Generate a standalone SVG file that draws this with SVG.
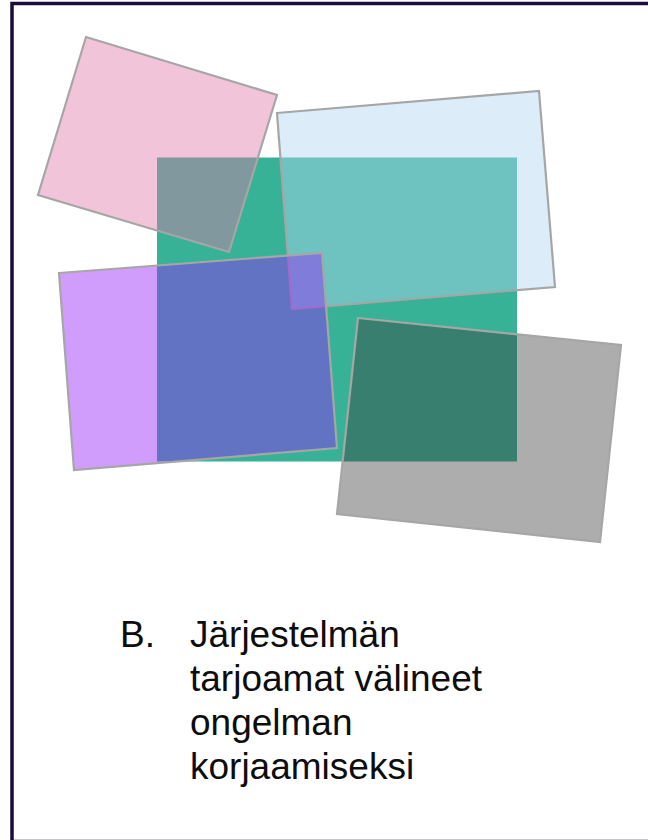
<svg xmlns="http://www.w3.org/2000/svg" width="648" height="840" viewBox="0 0 648 840">
  <style>
    .card { stroke: #a6a6a6; stroke-width: 2.2; stroke-linejoin: miter; }
    .label { font-family: "Liberation Sans", Arial, sans-serif; font-size: 37px; fill: #0d0d0d; }
  </style>
  <rect x="0" y="0" width="648" height="840" fill="#ffffff"/>
  <rect id="frame" x="12" y="3.5" width="640" height="838" fill="none" stroke="#1e0b3c" stroke-width="3.5"/>
  <g id="teal">
    <rect x="157" y="157.5" width="360" height="304" fill="#38b297"/>
  </g>
  <g id="pink">
    <polygon class="card" points="86,37 277,95 229,252 38,195" fill="#e176a7" fill-opacity="0.43"/>
  </g>
  <g id="blue">
    <polygon class="card" points="277,113 539,91 555,287 292,309" fill="#b2d7f2" fill-opacity="0.45"/>
  </g>
  <g id="purple">
    <polygon class="card" points="59,273 322,253 337,448 74,470" fill="#9726fb" fill-opacity="0.45"/>
  </g>
  <g id="gray">
    <polygon class="card" points="358,318 621,345 600,542 337,514" fill="#383838" fill-opacity="0.41"/>
  </g>
  <g id="caption" class="label">
    <text x="120" y="647">B.</text>
    <text x="190" y="647">Järjestelmän</text>
    <text x="190" y="691">tarjoamat välineet</text>
    <text x="190" y="735">ongelman</text>
    <text x="190" y="779">korjaamiseksi</text>
  </g>
</svg>
